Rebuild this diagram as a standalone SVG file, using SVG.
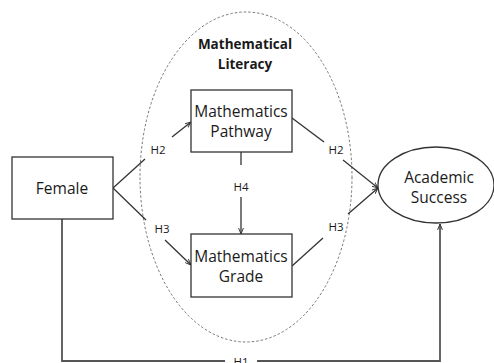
<svg xmlns="http://www.w3.org/2000/svg" width="494" height="363" viewBox="0 0 494 363">
<style>
.box{fill:#fff;stroke:#333;stroke-width:1.3}
.lbl{font-family:"Open Sans","Liberation Sans",sans-serif;font-size:15.5px;fill:#1a1a1a;text-anchor:middle}
.h{font-family:"Open Sans","Liberation Sans",sans-serif;font-size:11.5px;fill:#1a1a1a;text-anchor:middle}
.title{font-family:"Open Sans","Liberation Sans",sans-serif;font-size:13.5px;font-weight:bold;fill:#1a1a1a;text-anchor:middle}
.ln{fill:none;stroke:#333;stroke-width:1.3}
.h1ln{fill:none;stroke:#555;stroke-width:1.8}
</style>
<defs>
<marker id="arr" viewBox="0 0 10 10" refX="10" refY="5" markerWidth="6" markerHeight="6" orient="auto" markerUnits="userSpaceOnUse">
<path d="M0,1 L10,5 L0,9" fill="none" stroke="#333" stroke-width="1.6"/>
</marker>
</defs>
<rect width="494" height="363" fill="#fff"/>
<g id="literacy">
<ellipse cx="246" cy="177" rx="106" ry="165" fill="none" stroke="#666" stroke-width="0.9" stroke-dasharray="2.5,2"/>
<text class="title" x="245" y="49">Mathematical</text>
<text class="title" x="245" y="69">Literacy</text>
</g>
<g id="connectors">
<path class="ln" d="M145,159 L113,188 L146,220"/>
<path class="ln" d="M172,137 L191,122" marker-end="url(#arr)"/>
<path class="ln" d="M165,240 L191,265" marker-end="url(#arr)"/>
<path class="ln" d="M292,118 L324,142"/>
<path class="ln" d="M343,160 L378,188" marker-end="url(#arr)"/>
<path class="ln" d="M292,266 L323,238"/>
<path class="ln" d="M348,214 L378,188" marker-end="url(#arr)"/>
<path class="ln" d="M241,152 L241,165"/>
<path class="ln" d="M241,197 L241,234" marker-end="url(#arr)"/>
<path class="h1ln" d="M62,219 L62,361 L225,361"/>
<path class="h1ln" d="M257,361 L440,361 L440,224" marker-end="url(#arr)"/>
<text class="h" x="158" y="154">H2</text>
<text class="h" x="162" y="233">H3</text>
<text class="h" x="336" y="154">H2</text>
<text class="h" x="336" y="231">H3</text>
<text class="h" x="241" y="191">H4</text>
<text class="h" x="241" y="366">H1</text>
</g>
<g id="female">
<rect class="box" x="12" y="157" width="101" height="62"/>
<text class="lbl" x="62" y="194">Female</text>
</g>
<g id="pathway">
<rect class="box" x="191" y="90" width="101" height="62"/>
<text class="lbl" x="241" y="117">Mathematics</text>
<text class="lbl" x="241" y="137">Pathway</text>
</g>
<g id="grade">
<rect class="box" x="191" y="234" width="101" height="63"/>
<text class="lbl" x="241" y="262">Mathematics</text>
<text class="lbl" x="241" y="282">Grade</text>
</g>
<g id="success">
<ellipse class="box" cx="436" cy="185" rx="58" ry="38"/>
<text class="lbl" x="439" y="183">Academic</text>
<text class="lbl" x="439" y="203">Success</text>
</g>
</svg>
